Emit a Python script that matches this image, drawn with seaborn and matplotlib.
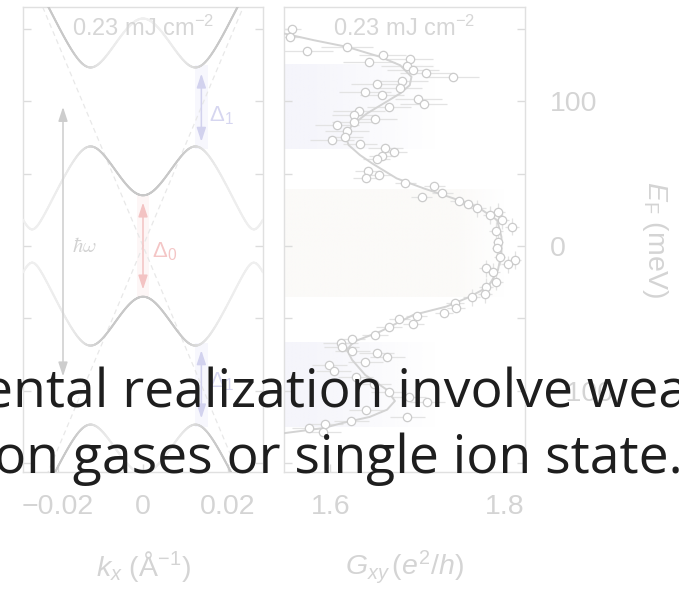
import numpy as np
import matplotlib
matplotlib.use("Agg")
import matplotlib.pyplot as plt
import seaborn as sns
from matplotlib.collections import LineCollection
from matplotlib.colors import to_rgb

# ---- Floquet–Dirac model parameters (meV, meV*Å) ----
v_dirac = 7000.0
hbar_omega = 192.0
gap_0 = 70.0        # Δ0, opened at k = 0
gap_1 = 58.0        # Δ1, opened at E = ±ħω/2
gap_2 = 28.0        # second-order gap at k = ±ħω/v
fluence_label = "0.23 mJ cm$^{-2}$"

k_lim = (-0.0282, 0.0282)
g_lim = (1.547, 1.823)
e_lim = (-156, 165)

k_ticks = [-0.02, 0, 0.02]
k_ticklabels = ["\u22120.02", "0", "0.02"]
g_ticks = [1.6, 1.8]
g_ticklabels = ["1.6", "1.8"]
e_ticks = [-150, -100, -50, 0, 50, 100, 150]
e_ticklabels = ["", "\u2212100", "", "0", "", "100", ""]

caption_lines = ["ental realization involve wea", "on gases or single ion state."]

# ---- Hall conductance data: G_xy (e^2/h) vs E_F (meV) ----
data_G = [1.556, 1.554, 1.573, 1.619, 1.660, 1.644, 1.691, 1.688, 1.695, 1.710,
          1.740, 1.682, 1.654, 1.680, 1.640, 1.659, 1.701, 1.707, 1.667, 1.633,
          1.627, 1.651, 1.627, 1.608, 1.619, 1.617, 1.602, 1.634, 1.663, 1.673,
          1.659, 1.653, 1.643, 1.656, 1.641, 1.686, 1.719, 1.728, 1.705, 1.747,
          1.758, 1.768, 1.792, 1.783, 1.797, 1.808, 1.790, 1.792, 1.791, 1.794,
          1.812, 1.803, 1.778, 1.786, 1.790, 1.778, 1.777, 1.762, 1.743, 1.744,
          1.730, 1.699, 1.679, 1.695, 1.667, 1.651, 1.625, 1.612, 1.613, 1.625,
          1.653, 1.665, 1.640, 1.599, 1.604, 1.629, 1.650, 1.667, 1.690, 1.711,
          1.641, 1.688, 1.624, 1.594, 1.576, 1.592]
data_E = [150.1, 144.4, 134.7, 137.5, 132.2, 126.7, 129.4, 124.1, 121.8, 119.1,
          116.8, 113.8, 111.5, 109.2, 106.0, 104.1, 101.4, 98.1, 96.1, 93.1,
          90.3, 88.0, 85.3, 83.4, 79.3, 75.4, 72.9, 70.3, 67.8, 65.1,
          62.3, 60.0, 51.9, 49.0, 46.7, 43.7, 41.4, 36.8, 34.0, 31.3,
          29.0, 26.0, 23.7, 21.4, 17.9, 13.3, 10.6, 3.0, -1.6, -7.4,
          -9.7, -12.6, -15.4, -17.7, -24.6, -28.0, -33.3, -35.4, -39.1, -43.0,
          -46.0, -48.3, -50.6, -53.8, -55.6, -61.4, -64.4, -66.7, -69.4, -72.2,
          -74.0, -76.8, -79.8, -82.1, -86.0, -90.1, -95.0, -100.5, -104.0, -107.4,
          -113.1, -117.7, -120.5, -122.8, -125.7, -128.7]
data_G_err = [0.010, 0.012, 0.030, 0.030, 0.027, 0.030, 0.027, 0.030, 0.030, 0.030,
              0.030, 0.030, 0.030, 0.025, 0.030, 0.025, 0.027, 0.027, 0.025, 0.030,
              0.025, 0.025, 0.025, 0.025, 0.025, 0.020, 0.025, 0.020, 0.020, 0.015,
              0.015, 0.015, 0.015, 0.015, 0.015, 0.012, 0.012, 0.012, 0.012, 0.010,
              0.010, 0.010, 0.008, 0.008, 0.008, 0.008, 0.008, 0.006, 0.006, 0.006,
              0.006, 0.008, 0.008, 0.008, 0.008, 0.008, 0.008, 0.010, 0.010, 0.010,
              0.010, 0.012, 0.012, 0.012, 0.015, 0.015, 0.015, 0.020, 0.020, 0.020,
              0.020, 0.020, 0.020, 0.020, 0.020, 0.020, 0.020, 0.020, 0.020, 0.020,
              0.020, 0.020, 0.020, 0.020, 0.020, 0.020]
data_E_err = [0] * 41 + [6] * 17 + [0] * 28

# smooth guide through the data
fit_E = [152, 146.7, 142.1, 137.5, 130.6, 124.8, 116.8, 111.0, 105.3, 98.4,
         91.5, 83.4, 76.6, 69.7, 62.8, 57.0, 46.7, 39.8, 32.9, 26.0,
         17.9, 6.4, -5.1, -16.6, -28.0, -35.0, -41.8, -47.6, -59.1, -66.0,
         -71.7, -78.6, -89.0, -99.3, -107.0, -113.0, -118.0, -122.0, -125.7, -129.2, -132.0]
fit_G = [1.535, 1.547, 1.581, 1.619, 1.657, 1.680, 1.693, 1.691, 1.680, 1.661,
         1.642, 1.625, 1.617, 1.621, 1.634, 1.648, 1.676, 1.707, 1.741, 1.771,
         1.791, 1.796, 1.796, 1.792, 1.781, 1.760, 1.733, 1.695, 1.657, 1.627,
         1.619, 1.625, 1.640, 1.665, 1.674, 1.665, 1.645, 1.615, 1.592, 1.547, 1.530]

# ---- colours ----
ink_faint = "#d4d4d4"
spine_col = "#e0e0e0"
band_dark = "#c8c8c8"
band_light = "#f0f0f0"
dash_col = "#e8e8e8"
blue_col = "#d2d2ee"
red_col = "#f3c3c3"

sns.set_theme(style="white")
plt.rcParams.update({
    "font.family": ["Liberation Sans", "DejaVu Sans"],
    "mathtext.fontset": "custom",
    "mathtext.rm": "Liberation Sans",
    "mathtext.it": "Liberation Sans:italic",
    "mathtext.bf": "Liberation Sans:bold",
    "mathtext.sf": "Liberation Sans",
    "axes.edgecolor": spine_col,
    "axes.linewidth": 1.0,
})

W, H = 679, 592
fig = plt.figure(figsize=(W / 100, H / 100), dpi=100)
ax_k = fig.add_axes([23 / W, 1 - 472 / H, 240 / W, 465 / H])
ax_g = fig.add_axes([284 / W, 1 - 472 / H, 241 / W, 465 / H])


def floquet_spectrum(k_values, n_max=3):
    ns = np.arange(-n_max, n_max + 1)
    size = 2 * len(ns)
    couplings = {0: gap_0 / 2, 1: gap_1 / 2, 2: gap_2 / 2}
    energies = np.zeros((len(k_values), size))
    weights = np.zeros((len(k_values), size))
    i0 = int(np.where(ns == 0)[0][0])
    for ik, k in enumerate(k_values):
        h = np.zeros((size, size))
        for i, n in enumerate(ns):
            h[2 * i, 2 * i] = v_dirac * k + n * hbar_omega
            h[2 * i + 1, 2 * i + 1] = -v_dirac * k + n * hbar_omega
            for j, m in enumerate(ns):
                d = abs(m - n)
                if d in couplings:
                    h[2 * i, 2 * j + 1] = couplings[d]
                    h[2 * j + 1, 2 * i] = couplings[d]
        w, vecs = np.linalg.eigh(h)
        energies[ik] = w
        weights[ik] = vecs[2 * i0] ** 2 + vecs[2 * i0 + 1] ** 2
    return energies, weights


# ---------------- left panel: quasi-energy bands ----------------
ax = ax_k
kk = np.linspace(k_lim[0], k_lim[1], 700)
energies, weights = floquet_spectrum(kk)
c_dark = np.array(to_rgb(band_dark))
c_light = np.array(to_rgb(band_light))
for b in range(energies.shape[1]):
    e = energies[:, b]
    if e.max() < e_lim[0] - 20 or e.min() > e_lim[1] + 20:
        continue
    pts = np.column_stack([kk, e]).reshape(-1, 1, 2)
    segs = np.concatenate([pts[:-1], pts[1:]], axis=1)
    wt = np.clip(0.5 * (weights[:-1, b] + weights[1:, b]) * 1.15, 0, 1)
    cols = c_light[None, :] + (c_dark - c_light)[None, :] * wt[:, None]
    ax.add_collection(LineCollection(segs, colors=cols, linewidths=1.4,
                                     capstyle="round", zorder=3))

# bare Dirac cone
for sgn in (1, -1):
    sns.lineplot(x=kk, y=sgn * v_dirac * kk, ax=ax, color=dash_col, lw=0.9,
                 linestyle=(0, (4, 3)), zorder=2)

k_gap1 = hbar_omega / (2 * v_dirac)
# soft glow behind the gap arrows
for e0, e1 in [(hbar_omega / 2 - gap_1 / 2, hbar_omega / 2 + gap_1 / 2),
               (-hbar_omega / 2 - gap_1 / 2, -hbar_omega / 2 + gap_1 / 2)]:
    ax.fill_between([k_gap1 - 0.0016, k_gap1 + 0.0016], e0, e1, color="#f7f7fd", lw=0, zorder=1)
ax.fill_between([-0.0015, 0.0015], -gap_0 / 2, gap_0 / 2, color="#fdf6f6", lw=0, zorder=1)


def double_arrow(a, x, y0, y1, col):
    a.annotate("", xy=(x, y1), xytext=(x, y0),
               arrowprops=dict(arrowstyle="<|-|>,head_length=0.85,head_width=0.28",
                               color=col, lw=1.1, mutation_scale=10,
                               shrinkA=0, shrinkB=0), zorder=4)


double_arrow(ax, -0.0188, -hbar_omega / 2 + 6, hbar_omega / 2, "#cdcdcd")
double_arrow(ax, k_gap1, hbar_omega / 2 - gap_1 / 2 + 5, hbar_omega / 2 + gap_1 / 2 - 6, blue_col)
double_arrow(ax, k_gap1, -hbar_omega / 2 - gap_1 / 2 + 6, -hbar_omega / 2 + gap_1 / 2 - 5, blue_col)
double_arrow(ax, 0.0, -gap_0 / 2 + 5, gap_0 / 2 - 5, red_col)

ax.text(-0.0137, 0, r"$\hbar\omega$", color="#d2d2d2", fontsize=15,
        math_fontfamily="cm", ha="center", va="center")
ax.text(k_gap1 + 0.0017, hbar_omega / 2 - 6, r"$\Delta_1$", color="#d6d6f0",
        fontsize=16, ha="left", va="center")
ax.text(k_gap1 + 0.0017, -hbar_omega / 2 + 2, r"$\Delta_1$", color="#d6d6f0",
        fontsize=16, ha="left", va="center")
ax.text(0.0021, -4, r"$\Delta_0$", color="#f4c6c6", fontsize=16,
        ha="left", va="center")

ax.set_xlim(*k_lim)
ax.set_ylim(*e_lim)
ax.set_xticks(k_ticks, k_ticklabels)
ax.set_yticks(e_ticks)
ax.tick_params(axis="y", left=True, right=True, labelleft=False, direction="in",
               length=6, width=1, color="#dcdcdc")
ax.tick_params(axis="x", bottom=True, direction="in", length=6, width=1,
               color="#dcdcdc", labelsize=20.5, labelcolor=ink_faint, pad=16)
ax.set_xlabel(r"$k_x\ (\mathrm{Å}^{-1})$", fontsize=20.5, color=ink_faint)
ax.xaxis.set_label_coords(0.5, -0.165)

# ---------------- right panel: Hall conductance ----------------
ax = ax_g


def shaded_band(a, e0, e1, rgb, g_solid, g_clear):
    gx = np.linspace(g_lim[0], g_lim[1], 300)
    alpha = np.clip((g_clear - gx) / (g_clear - g_solid), 0, 1)
    img = np.zeros((1, gx.size, 4))
    img[..., :3] = to_rgb(rgb)
    img[..., 3] = alpha
    a.imshow(img, extent=(g_lim[0], g_lim[1], e0, e1), aspect="auto",
             origin="lower", interpolation="bilinear", zorder=0)


shaded_band(ax, hbar_omega / 2 - gap_1 / 2, hbar_omega / 2 + gap_1 / 2, "#f5f5fb", 1.57, 1.72)
shaded_band(ax, -hbar_omega / 2 - gap_1 / 2, -hbar_omega / 2 + gap_1 / 2, "#f5f5fb", 1.57, 1.72)
shaded_band(ax, -gap_0 / 2, gap_0 / 2 + 4, "#fbfaf8", 1.74, 1.80)

ax.errorbar(data_G, data_E, xerr=data_G_err, yerr=data_E_err, fmt="none",
            ecolor="#e3e3e3", elinewidth=0.9, capsize=0, zorder=2)
sns.lineplot(x=fit_G, y=fit_E, sort=False, estimator=None, ax=ax,
             color="#d3d3d3", lw=1.4, zorder=3)
sns.scatterplot(x=data_G, y=data_E, ax=ax, marker="o", s=36,
                facecolor="white", edgecolor="#cbcbcb", linewidth=0.9, zorder=4)

ax.set_xlim(*g_lim)
ax.set_ylim(*e_lim)
ax.set_xticks(g_ticks, g_ticklabels)
ax.set_yticks(e_ticks, e_ticklabels)
ax.tick_params(axis="y", left=True, right=True, labelleft=False, labelright=True,
               direction="in", length=6, width=1, color="#dcdcdc",
               labelsize=20.5, labelcolor=ink_faint, pad=18)
ax.tick_params(axis="x", bottom=True, direction="in", length=6, width=1,
               color="#dcdcdc", labelsize=20.5, labelcolor=ink_faint, pad=16)
ax.set_xlabel(r"$G_{xy}\,(e^2/h)$", fontsize=20.5, color=ink_faint)
ax.xaxis.set_label_coords(0.5, -0.165)
ax.yaxis.set_label_position("right")
ax.set_ylabel(r"$E_\mathrm{F}$ (meV)", fontsize=20.5, color=ink_faint, rotation=270)
ax.yaxis.set_label_coords(1.60, 0.5)

for a in (ax_k, ax_g):
    a.text(0.5, 0.955, fluence_label, transform=a.transAxes, ha="center",
           va="center", fontsize=17, color="#d6d6d6")
    for sp in a.spines.values():
        sp.set_color(spine_col)
        sp.set_linewidth(1.0)

# ---------------- caption text over the figure ----------------
cap_kw = dict(fontsize=38.5, family=["Open Sans", "DejaVu Sans"], color="#1e1e1e",
              va="baseline", ha="left", zorder=10)
for (x_px, base_px), line in zip([(-17, 408), (-6, 473)], caption_lines):
    fig.text(x_px / W, 1 - base_px / H, line, **cap_kw)

fig.savefig("out.png", dpi=100)
